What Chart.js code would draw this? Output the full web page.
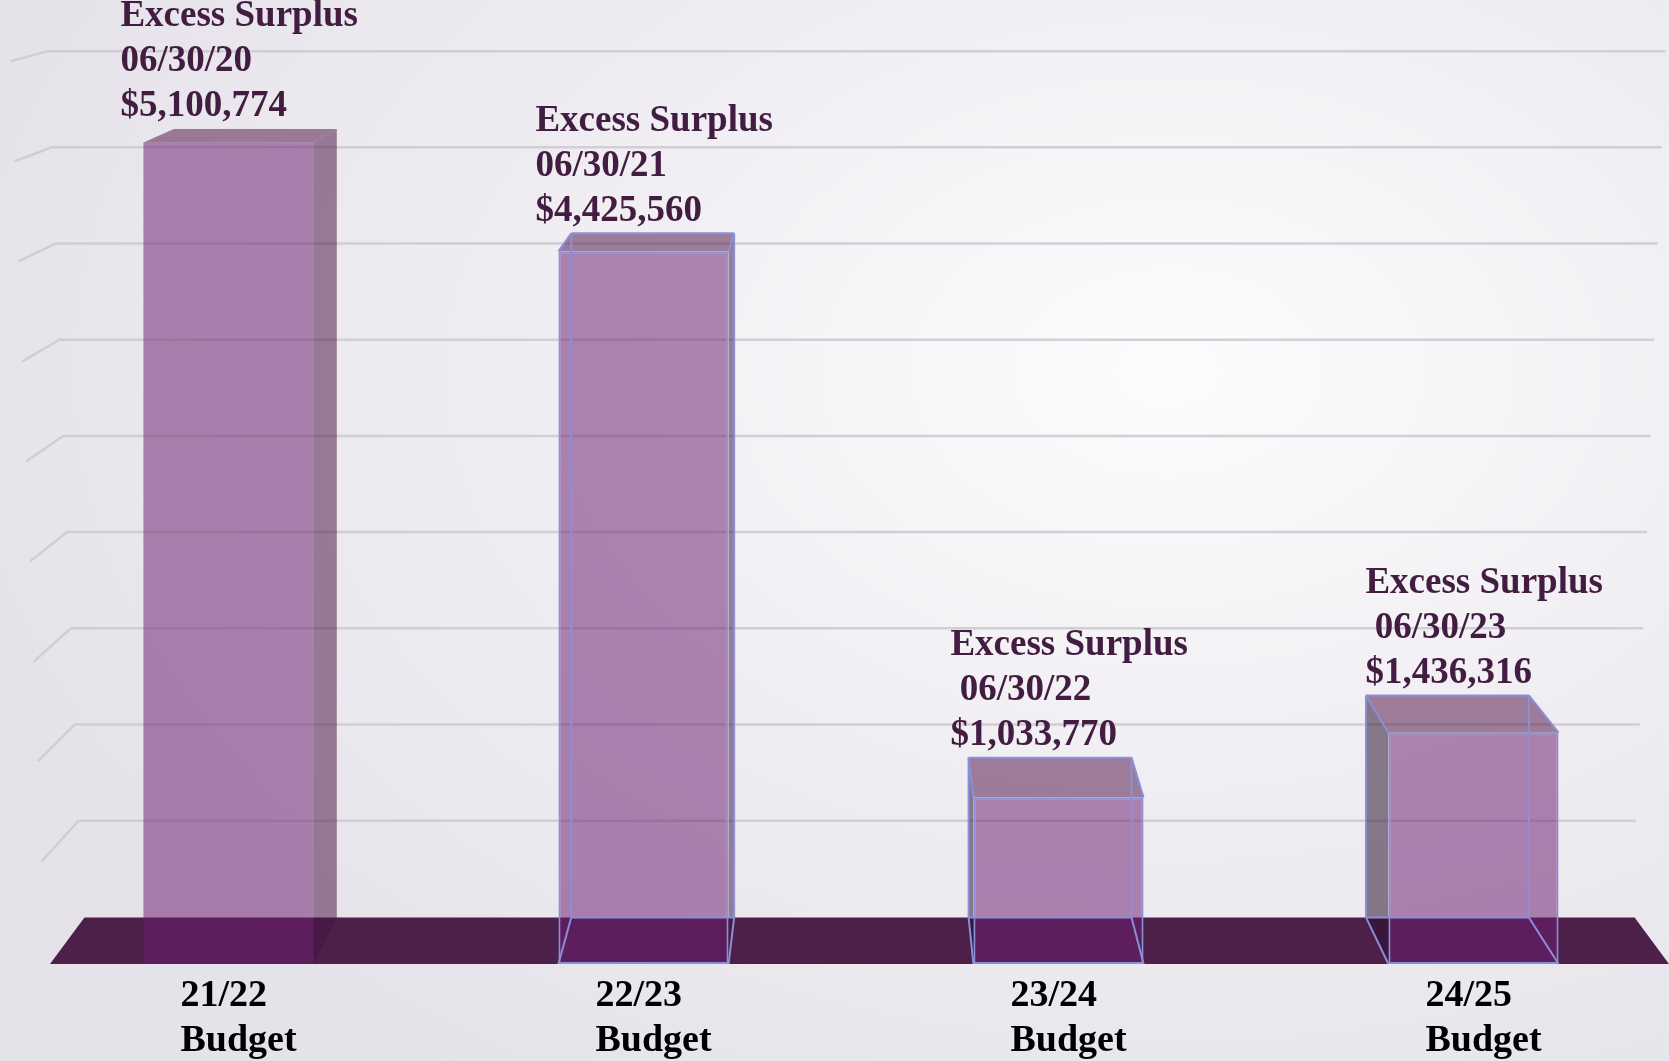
<!DOCTYPE html>
<html>
<head>
<meta charset="utf-8">
<script src="https://cdn.jsdelivr.net/npm/chart.js@4.4.1/dist/chart.umd.min.js"></script>
<style>
  html, body { margin: 0; padding: 0; overflow: hidden; }
  body {
    width: 1669px; height: 1061px;
    background: radial-gradient(ellipse 75% 80% at 70% 35%, #fcfcfd 0%, #f1eff3 45%, #e6e2ea 100%);
  }
  /* a bit wider than the window so the last column sits where the original has it */
  #wrap { position: relative; width: 1681px; height: 1061px; }
</style>
</head>
<body>
<div id="wrap"><canvas id="surplusChart"></canvas></div>
<script>
const budgetYears = ['21/22', '22/23', '23/24', '24/25'];
const surplusDates = ['06/30/20', '06/30/21', ' 06/30/22', ' 06/30/23'];
const surplusValues = [5100774, 4425560, 1033770, 1436316];
const wallLines = [1, 2, 3, 4, 5, 6, 7, 8, 9];

const SERIF = "'Liberation Serif', 'Times New Roman', serif";
const LABEL_COLOR = '#421d41';

// fake perspective: back of each box is pushed toward a vanishing x and upward
const depth = (y) => 12 + (y - 100) * 0.04;
const shiftX = (x) => (860 - x) * 0.0425;
const back = (p) => ({ x: p.x + shiftX(p.x), y: p.y - depth(p.y) });

function poly(ctx, pts, fill) {
  ctx.beginPath();
  ctx.moveTo(pts[0].x, pts[0].y);
  for (let i = 1; i < pts.length; i++) ctx.lineTo(pts[i].x, pts[i].y);
  ctx.closePath();
  ctx.fillStyle = fill;
  ctx.fill();
}

function line(ctx, a, b) {
  ctx.beginPath();
  ctx.moveTo(a.x, a.y);
  ctx.lineTo(b.x, b.y);
  ctx.stroke();
}

function barCorners(bar) {
  const L = bar.x - bar.width / 2, R = bar.x + bar.width / 2;
  return {
    tl: { x: L, y: bar.y }, tr: { x: R, y: bar.y },
    bl: { x: L, y: bar.base }, br: { x: R, y: bar.base },
  };
}

const stagePlugin = {
  id: 'stage',
  beforeDatasetsDraw(chart) {
    const ctx = chart.ctx, area = chart.chartArea;
    const wall = chart.scales.yWall, y = chart.scales.y;
    ctx.save();

    // back wall grid lines with a short slanted side-wall piece
    ctx.strokeStyle = 'rgba(205,203,209,0.9)';
    ctx.lineWidth = 2.5;
    wallLines.forEach(v => {
      const py = wall.getPixelForValue(v);
      const xl = area.left + 26 + (py - area.top) * 0.04;
      const xr = area.right - 15 - (py - area.top) * 0.038;
      ctx.beginPath();
      ctx.moveTo(xl - 37, py + depth(py));
      ctx.lineTo(xl, py);
      ctx.lineTo(xr, py);
      ctx.stroke();
    });

    // floor slab
    const fy = y.getPixelForValue(0);
    const fl = { x: area.left + 29, y: fy }, fr = { x: area.right - 12, y: fy };
    poly(ctx, [fl, fr, back(fr), back(fl)], '#4d2049');

    // top and side faces of the boxes
    chart.getDatasetMeta(0).data.forEach(bar => {
      const c = barCorners(bar);
      poly(ctx, [c.tl, c.tr, back(c.tr), back(c.tl)], 'rgba(80,20,70,0.52)');
      if (shiftX(bar.x) > 0) {
        poly(ctx, [c.tr, c.br, back(c.br), back(c.tr)], 'rgba(70,20,65,0.52)');
      } else {
        poly(ctx, [c.tl, c.bl, back(c.bl), back(c.tl)], 'rgba(40,15,45,0.53)');
      }
    });
    ctx.restore();
  },
  afterDatasetsDraw(chart) {
    const ctx = chart.ctx;
    ctx.save();
    chart.getDatasetMeta(0).data.forEach((bar, i) => {
      const c = barCorners(bar);
      const o = bar.options;
      if (o.borderWidth > 0) {
        ctx.strokeStyle = o.borderColor;
        ctx.lineWidth = o.borderWidth;
        const b = { tl: back(c.tl), tr: back(c.tr), bl: back(c.bl), br: back(c.br) };
        line(ctx, b.tl, b.tr); line(ctx, b.tl, b.bl); line(ctx, b.tr, b.br); line(ctx, b.bl, b.br);
        line(ctx, c.tl, b.tl); line(ctx, c.tr, b.tr); line(ctx, c.bl, b.bl); line(ctx, c.br, b.br);
      }

      // value label above the box
      const top = back(c.tl).y;
      const lines = ['Excess Surplus', surplusDates[i], '$' + surplusValues[i].toLocaleString('en-US')];
      ctx.font = 'bold 37px ' + SERIF;
      ctx.fillStyle = LABEL_COLOR;
      ctx.textAlign = 'left';
      ctx.textBaseline = 'middle';
      lines.forEach((t, j) => {
        ctx.fillText(t, c.tl.x - 23, top - 22 - 45 * (lines.length - 1 - j));
      });
    });
    ctx.restore();
  },
  afterDraw(chart) {
    const ctx = chart.ctx, xs = chart.scales.x;
    const fy = chart.scales.y.getPixelForValue(0);
    ctx.save();
    ctx.font = 'bold 38px ' + SERIF;
    ctx.fillStyle = '#000';
    ctx.textAlign = 'left';
    ctx.textBaseline = 'middle';
    budgetYears.forEach((yr, i) => {
      const x = xs.getPixelForValue(i) - 48;
      ctx.fillText(yr, x, fy + 32);
      ctx.fillText('Budget', x, fy + 77);
    });
    ctx.restore();
  },
};

new Chart(document.getElementById('surplusChart'), {
  type: 'bar',
  data: {
    labels: budgetYears,
    datasets: [{
      data: surplusValues,
      backgroundColor: 'rgba(108,28,112,0.52)',
      borderColor: ['rgba(0,0,0,0)', '#8a8fd6', '#8a8fd6', '#8a8fd6'],
      borderWidth: [0, 2, 2, 2],
      borderSkipped: false,
      barPercentage: 0.41,
      categoryPercentage: 1,
    }],
  },
  options: {
    responsive: true, maintainAspectRatio: false, animation: false,
    layout: { padding: { left: 21, right: 0, top: 30, bottom: 97 } },
    plugins: { legend: { display: false }, tooltip: { enabled: false } },
    scales: {
      x: { display: false },
      y: { display: false, min: 0, max: 5800000 },
      yWall: { type: 'linear', position: 'left', display: false, min: -0.49, max: 9.22 },
    },
  },
  plugins: [stagePlugin],
});
</script>
</body>
</html>
